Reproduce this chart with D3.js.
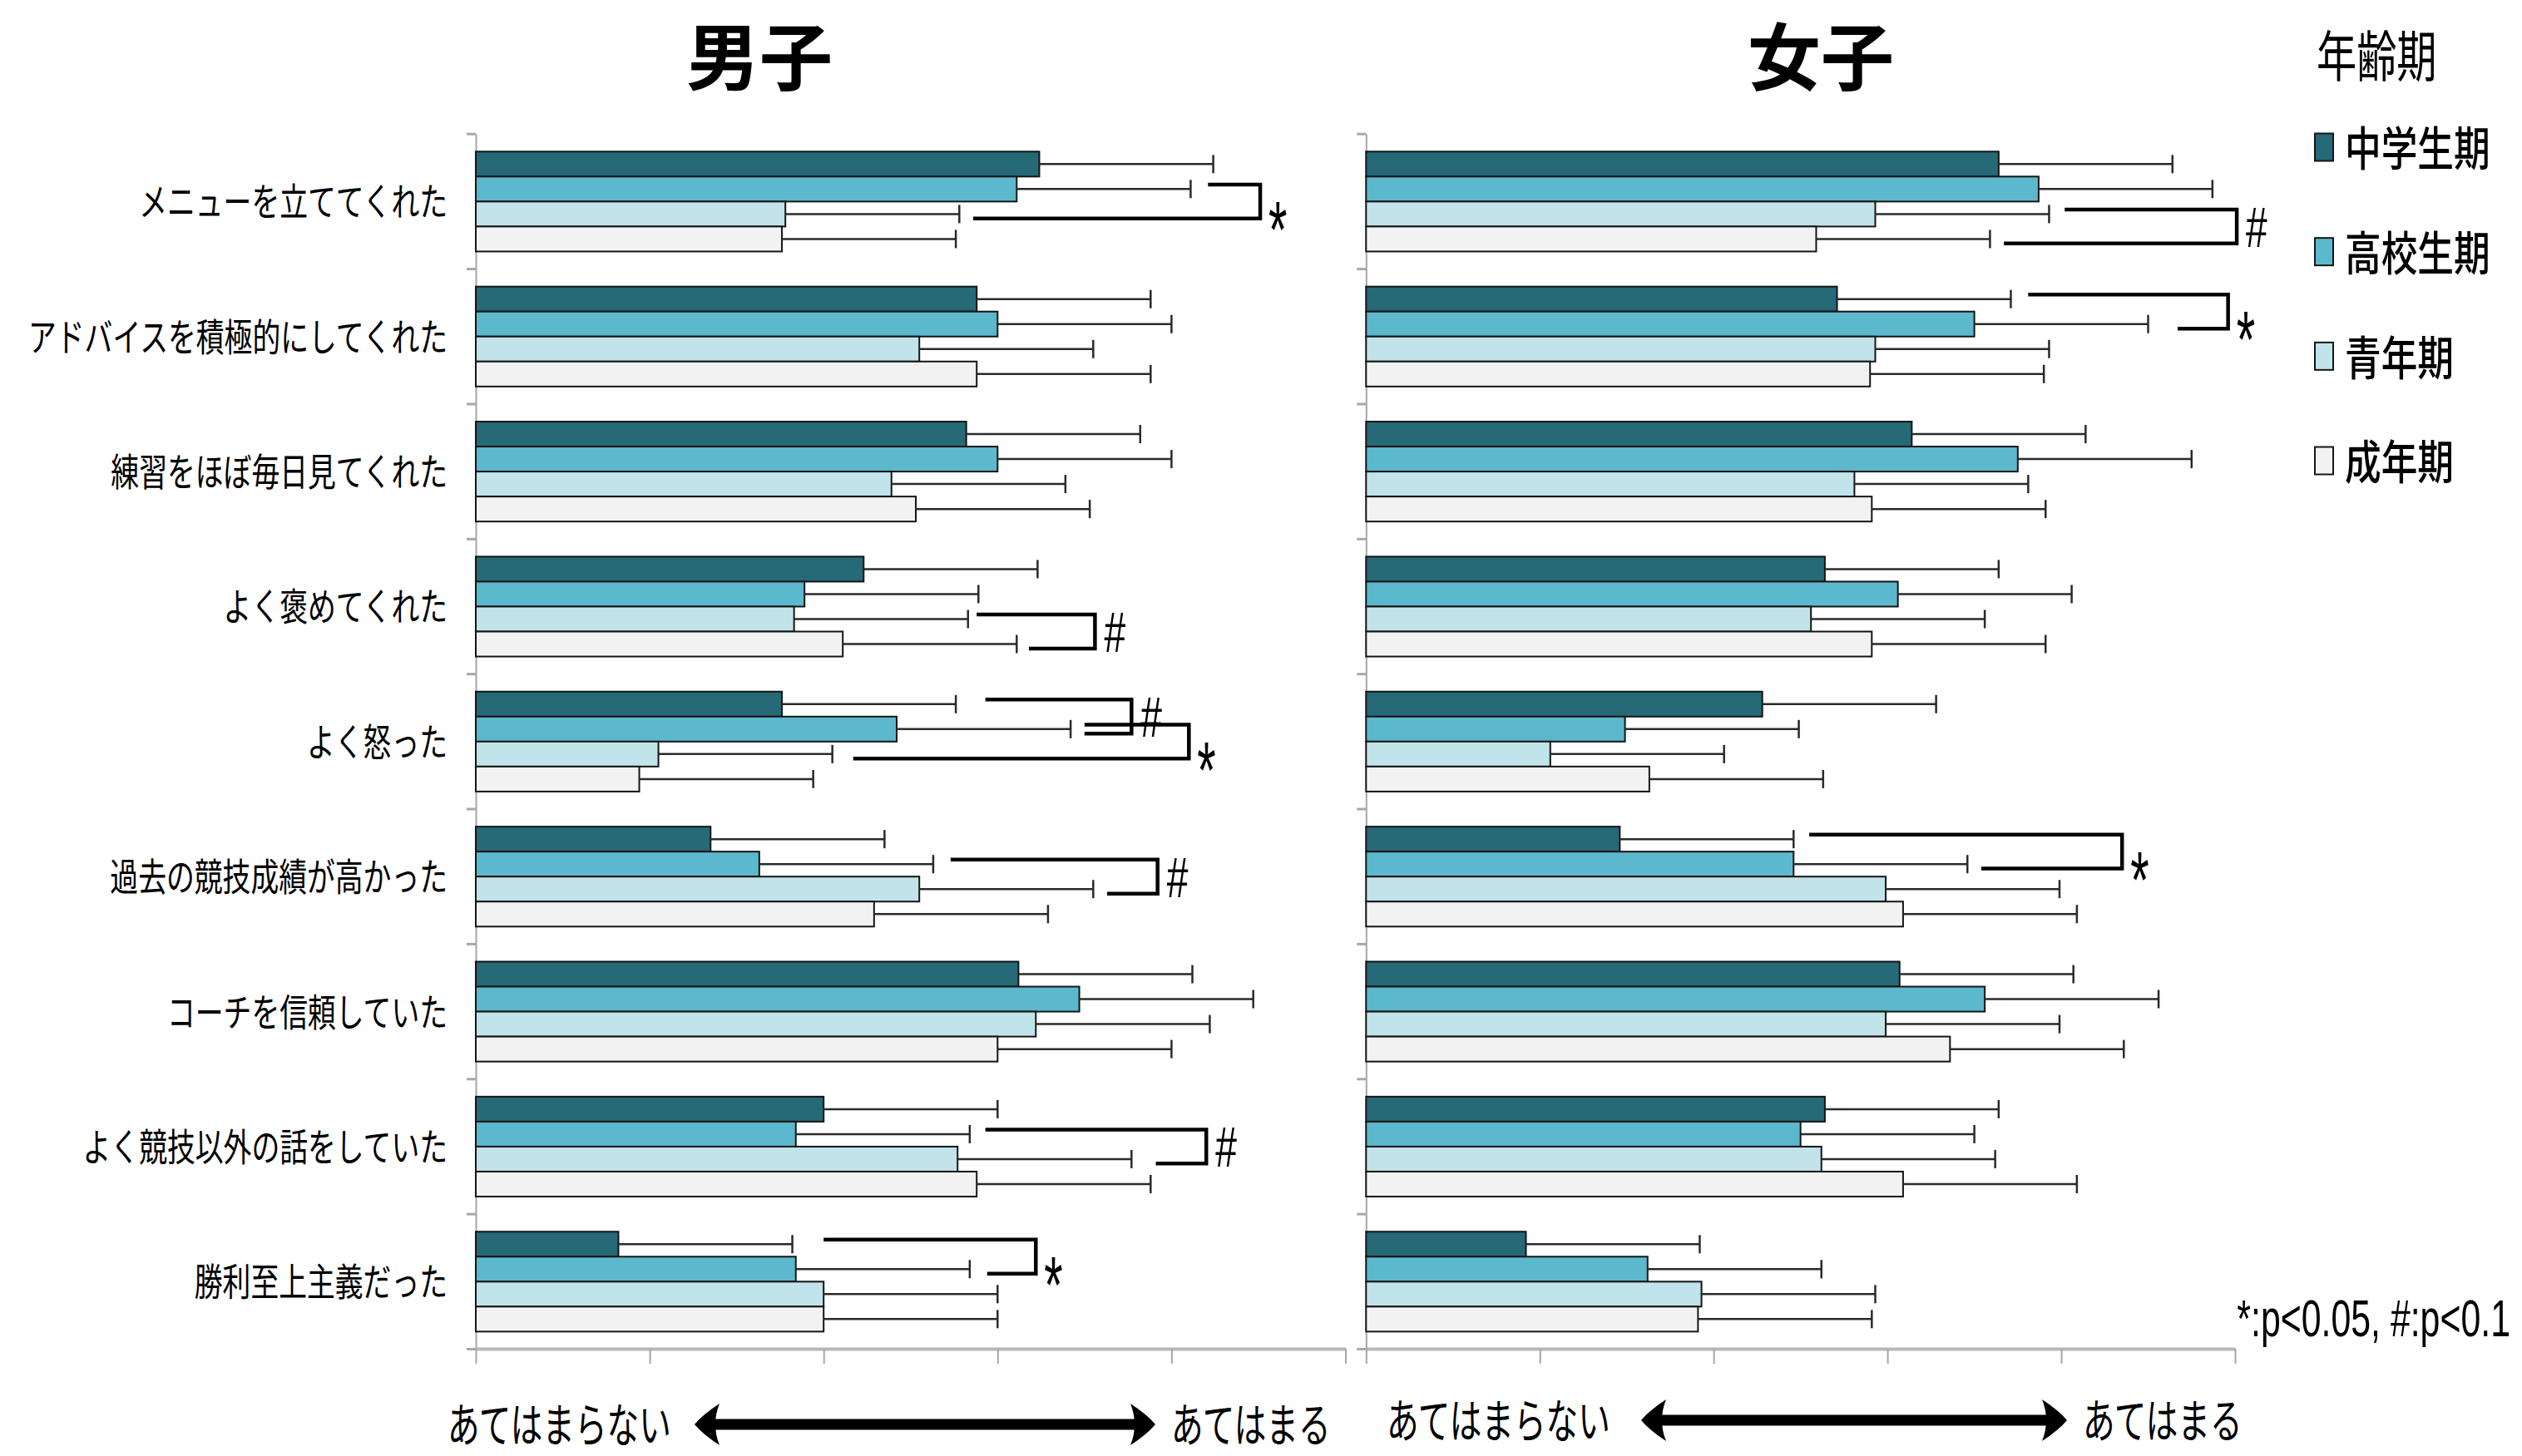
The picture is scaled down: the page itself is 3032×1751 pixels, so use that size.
<!DOCTYPE html>
<html><head><meta charset="utf-8">
<script src="https://cdn.jsdelivr.net/npm/d3@7"></script>
<style>body{margin:0;background:#fff}svg{display:block}</style>
</head><body>
<svg id="c" width="3032" height="1751"></svg>
<script>
// ---------- data ----------
const categories = ["メニューを立ててくれた","アドバイスを積極的にしてくれた","練習をほぼ毎日見てくれた","よく褒めてくれた","よく怒った","過去の競技成績が高かった","コーチを信頼していた","よく競技以外の話をしていた","勝利至上主義だった"];
const series = ["中学生期","高校生期","青年期","成年期"];
const panelTitles = ["男子","女子"];
const legendTitle = "年齢期";
const footnote = "*:p<0.05, #:p<0.1";
const axisLeftLabel = "あてはまらない";
const axisRightLabel = "あてはまる";
const xTickValues = [0,1,2,3,4,5];

const boysJunior = [3.24,2.88,2.82,2.23,1.76,1.35,3.12,2.00,0.82];
const boysHigh   = [3.11,3.00,3.00,1.89,2.42,1.63,3.47,1.84,1.84];
const boysYouth  = [1.78,2.55,2.39,1.83,1.05,2.55,3.22,2.77,2.00];
const boysAdult  = [1.76,2.88,2.53,2.11,0.94,2.29,3.00,2.88,2.00];
const boysJuniorSD = [1.00,1.00,1.00,1.00,1.00,1.00,1.00,1.00,1.00];
const boysHighSD   = [1.00,1.00,1.00,1.00,1.00,1.00,1.00,1.00,1.00];
const boysYouthSD  = [1.00,1.00,1.00,1.00,1.00,1.00,1.00,1.00,1.00];
const boysAdultSD  = [1.00,1.00,1.00,1.00,1.00,1.00,1.00,1.00,1.00];

const girlsJunior = [3.64,2.71,3.14,2.64,2.28,1.46,3.07,2.64,0.92];
const girlsHigh   = [3.87,3.50,3.75,3.06,1.49,2.46,3.56,2.50,1.62];
const girlsYouth  = [2.93,2.93,2.81,2.56,1.06,2.99,2.99,2.62,1.93];
const girlsAdult  = [2.59,2.90,2.91,2.91,1.63,3.09,3.36,3.09,1.91];
const girlsJuniorSD = [1.00,1.00,1.00,1.00,1.00,1.00,1.00,1.00,1.00];
const girlsHighSD   = [1.00,1.00,1.00,1.00,1.00,1.00,1.00,1.00,1.00];
const girlsYouthSD  = [1.00,1.00,1.00,1.00,1.00,1.00,1.00,1.00,1.00];
const girlsAdultSD  = [1.00,1.00,1.00,1.00,1.00,1.00,1.00,1.00,1.00];

// significance brackets: category index, the two series compared, where each arm starts, where the vertical sits (data units)
const boysBrackets = [
  {cat:0, a:1, b:2, startA:4.21, startB:2.86, xv:4.51, label:"*"},
  {cat:3, a:2, b:3, startA:2.88, startB:3.18, xv:3.56, label:"#"},
  {cat:4, a:0, b:1, startA:2.93, startB:3.50, xv:3.77, label:"#"},
  {cat:4, a:1, b:2, startA:3.50, startB:2.17, xv:4.10, label:"*"},
  {cat:5, a:1, b:2, startA:2.73, startB:3.63, xv:3.92, label:"#"},
  {cat:7, a:1, b:2, startA:2.93, startB:3.91, xv:4.20, label:"#"},
  {cat:8, a:0, b:1, startA:2.00, startB:2.94, xv:3.22, label:"*"}
];
const girlsBrackets = [
  {cat:0, a:2, b:3, startA:4.02, startB:3.67, xv:5.01, label:"#"},
  {cat:1, a:0, b:1, startA:3.81, startB:4.67, xv:4.96, label:"*"},
  {cat:5, a:0, b:1, startA:2.55, startB:3.54, xv:4.35, label:"*"}
];

// ---------- styles / layout ----------
const colors = ["#266977","#5bb8cd","#c1e3ea","#f2f2f2"];
const FJP = "'Noto Sans CJK JP','Noto Sans CJK SC',sans-serif";
const FLAT = "'Liberation Sans',Arial,sans-serif";
const yTop = 160.7, yBot = 1622;

const panels = [
  {title:panelTitles[0], vals:[boysJunior,boysHigh,boysYouth,boysAdult], sds:[boysJuniorSD,boysHighSD,boysYouthSD,boysAdultSD],
   brackets:boysBrackets, x0:572, x1:1617.5, titleX:913, labels:true,
   bottom:{notX:538, aL:835, aR:1389, yesX:1408, y:1713}},
  {title:panelTitles[1], vals:[girlsJunior,girlsHigh,girlsYouth,girlsAdult], sds:[girlsJuniorSD,girlsHighSD,girlsYouthSD,girlsAdultSD],
   brackets:girlsBrackets, x0:1642.3, x1:2687, titleX:2189, labels:false,
   bottom:{notX:1667, aL:1973, aR:2485, yesX:2504, y:1708}}
];

const svg = d3.select("#c");
svg.append("rect").attr("width",3032).attr("height",1751).attr("fill","#fff");

// CJK text: y is the visual centre (baseline shifted by 0.38em)
function txt(g, s, x, y, o){
  const t = g.append("text").text(s)
    .attr("transform",`translate(${x},${y}) scale(${o.sx||1},1)`)
    .attr("text-anchor",o.anchor||"start")
    .style("font-family",o.family||FJP)
    .style("font-size",o.size+"px")
    .style("font-weight",o.weight||400)
    .attr("fill","#000");
  if(!o.alpha) t.attr("dy","0.38em");
  return t;
}

const yCat = d3.scaleBand().domain(d3.range(categories.length)).range([yTop,yBot]).paddingInner(0).paddingOuter(0);
const bw = yCat.bandwidth();
const ySer = d3.scaleBand().domain(d3.range(series.length)).range([bw*0.133, bw*0.873]);
const bh = ySer.bandwidth();
const yBound = d3.scaleLinear().domain([0,categories.length]).range([yTop,yBot]);

panels.forEach(p=>{
  const g = svg.append("g");
  const x = d3.scaleLinear().domain([0,5]).range([p.x0,p.x1]);

  // title (baseline placed so the font's line box stays inside the page)
  txt(g, p.title, p.titleX, 101, {size:88, weight:700, anchor:"middle", alpha:true});

  // x axis
  const xa = g.append("g").attr("transform",`translate(0,${yBot})`)
    .call(d3.axisBottom(x).tickValues(xTickValues).tickSize(18).tickSizeOuter(0).tickFormat(""));
  xa.select(".domain").attr("stroke","#b8b8b8").attr("stroke-width",4);
  xa.selectAll(".tick line").attr("stroke","#a6a6a6").attr("stroke-width",2);

  // y axis
  const ya = g.append("g").attr("transform",`translate(${p.x0},0)`)
    .call(d3.axisLeft(yBound).tickValues(d3.range(categories.length+1)).tickSize(11).tickSizeOuter(0).tickFormat(""));
  ya.select(".domain").attr("stroke","#a6a6a6").attr("stroke-width",2);
  ya.selectAll(".tick line").attr("stroke","#a8a8a8").attr("stroke-width",3);

  // category labels
  if(p.labels){
    categories.forEach((c,i)=>{
      txt(g, c, 538, yCat(i)+bw/2, {size:46, sx:0.735, anchor:"end"});
    });
  }

  // bars
  const rows = [];
  categories.forEach((c,i)=>series.forEach((s,k)=>rows.push({i,k,v:p.vals[k][i],sd:p.sds[k][i]})));
  g.append("g").selectAll("rect").data(rows).join("rect")
    .attr("x",x(0)).attr("y",d=>yCat(d.i)+ySer(d.k))
    .attr("width",d=>x(d.v)-x(0)).attr("height",bh)
    .attr("fill",d=>colors[d.k]).attr("stroke","#151515").attr("stroke-width",2);

  // error bars
  const eg = g.append("g").attr("stroke","#2a2a2a").attr("stroke-width",2.5);
  rows.forEach(d=>{
    const cy = yCat(d.i)+ySer(d.k)+bh/2;
    eg.append("line").attr("x1",x(d.v)).attr("x2",x(d.v+d.sd)).attr("y1",cy).attr("y2",cy);
    eg.append("line").attr("x1",x(d.v+d.sd)).attr("x2",x(d.v+d.sd)).attr("y1",cy-11).attr("y2",cy+11);
  });

  // significance brackets
  p.brackets.forEach(b=>{
    const ya_ = yCat(b.cat)+ySer(b.a)+bh/2 - bh*0.18;
    const yb_ = yCat(b.cat)+ySer(b.b)+bh/2 + bh*0.18;
    g.append("path").attr("d",`M${x(b.startA)},${ya_}H${x(b.xv)}V${yb_}H${x(b.startB)}`)
      .attr("fill","none").attr("stroke","#000").attr("stroke-width",4.5).attr("stroke-linejoin","miter");
    const mid = (ya_+yb_)/2;
    if(b.label==="*"){
      txt(g,"*",x(b.xv)+10, mid+12+0.57*96, {size:96, sx:0.6, family:FLAT, alpha:true});
    } else {
      txt(g,"#",x(b.xv)+11, mid+0.36*68, {size:68, sx:0.68, family:FLAT, alpha:true});
    }
  });

  // bottom axis annotation
  const bt = p.bottom;
  txt(g, axisLeftLabel, bt.notX, bt.y, {size:56, sx:0.69});
  txt(g, axisRightLabel, bt.yesX, bt.y, {size:56, sx:0.69});
  g.append("line").attr("x1",bt.aL+18).attr("x2",bt.aR-18).attr("y1",bt.y).attr("y2",bt.y)
    .attr("stroke","#000").attr("stroke-width",13);
  const head = (tip,dir)=>`M${tip},${bt.y} Q${tip+dir*10},${bt.y-12} ${tip+dir*30},${bt.y-25} Q${tip+dir*20},${bt.y} ${tip+dir*30},${bt.y+25} Q${tip+dir*10},${bt.y+12} ${tip},${bt.y} Z`;
  g.append("path").attr("d",head(bt.aL,1)).attr("fill","#000");
  g.append("path").attr("d",head(bt.aR,-1)).attr("fill","#000");
});

// legend
const lg = svg.append("g");
txt(lg, legendTitle, 2785, 67, {size:66, sx:0.73});
const ly = d3.scaleLinear().domain([0,3]).range([177,554]);
series.forEach((s,k)=>{
  lg.append("rect").attr("x",2783).attr("y",ly(k)-16.5).attr("width",22).attr("height",33)
    .attr("fill",colors[k]).attr("stroke","#151515").attr("stroke-width",2);
  txt(lg, s, 2819, ly(k)+1, {size:56, sx:0.78, weight:500});
});

// footnote
txt(svg, footnote, 3018, 1607, {size:63, sx:0.68, family:FLAT, anchor:"end", alpha:true});
</script>
</body></html>
